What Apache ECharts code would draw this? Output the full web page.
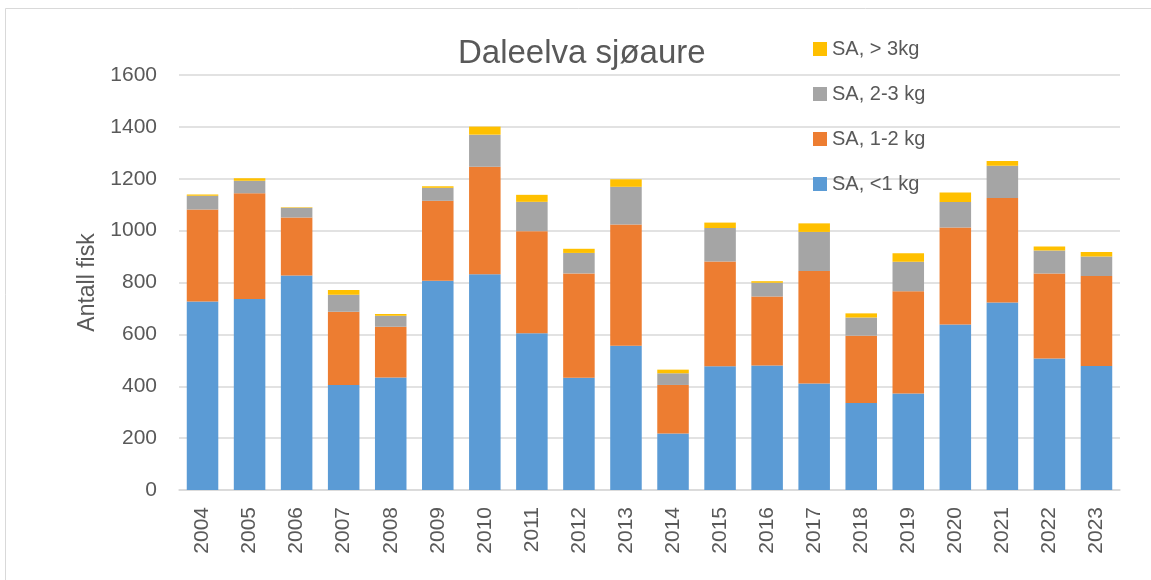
<!DOCTYPE html>
<html>
<head>
<meta charset="utf-8">
<script src="https://cdn.jsdelivr.net/npm/echarts@6/dist/echarts.min.js"></script>
<style>html,body{margin:0;padding:0;background:#fff;}#c{width:1151px;height:580px;}</style>
</head>
<body>
<div id="c"></div>
<script>
const years = ['2004','2005','2006','2007','2008','2009','2010','2011','2012','2013','2014','2015','2016','2017','2018','2019','2020','2021','2022','2023'];
const under1 = [727, 736, 827, 405, 434, 807, 832, 604, 433, 556, 218, 477, 480, 411, 335, 372, 638, 723, 507, 478];
const kg1to2 = [354, 408, 224, 282, 195, 308, 414, 394, 402, 468, 187, 404, 266, 433, 260, 394, 374, 403, 328, 347];
const kg2to3 = [53, 48, 37, 66, 43, 50, 124, 113, 79, 145, 45, 129, 53, 151, 70, 114, 98, 124, 88, 75];
const over3 = [5, 10, 2, 18, 7, 6, 31, 27, 16, 29, 14, 21, 6, 33, 16, 33, 37, 18, 16, 18];
const seriesNames = ['SA, <1 kg', 'SA, 1-2 kg', 'SA, 2-3 kg', 'SA, > 3kg'];
const yTicks = [0, 200, 400, 600, 800, 1000, 1200, 1400, 1600];

const colors = ['#5B9BD5', '#ED7D31', '#A5A5A5', '#FFC000'];
const dataSets = [under1, kg1to2, kg2to3, over3];
const font = 'Liberation Sans, Arial, sans-serif';
const txt = '#595959';

const chart = echarts.init(document.getElementById('c'));
chart.setOption({
  animation: false,
  backgroundColor: '#fff',
  textStyle: { fontFamily: font },
  graphic: [{
    type: 'rect', shape: { x: 5.5, y: 8.5, width: 1200, height: 700 },
    style: { fill: 'none', stroke: '#d9d9d9', lineWidth: 1 }, z: -1
  }],
  title: {
    text: 'Daleelva sjøaure', left: 453, top: 32,
    textStyle: { fontFamily: font, fontSize: 33, fontWeight: 'normal', color: txt }
  },
  legend: {
    orient: 'vertical', left: 808, top: 34,
    itemWidth: 14, itemHeight: 14, itemGap: 25,
    data: seriesNames.slice().reverse(),
    textStyle: { fontFamily: font, fontSize: 20, color: txt },
    icon: 'rect'
  },
  grid: { left: 179, right: 31, top: 75, bottom: 90 },
  xAxis: {
    type: 'category', data: years,
    axisLine: { lineStyle: { color: '#d9d9d9', width: 1.5 } },
    axisTick: { show: false },
    axisLabel: { rotate: 90, fontSize: 21, color: txt, margin: 17, fontFamily: font }
  },
  yAxis: {
    type: 'value', min: yTicks[0], max: yTicks[yTicks.length - 1], interval: 200,
    name: 'Antall fisk', nameLocation: 'middle', nameGap: 77,
    nameTextStyle: { fontSize: 23, color: txt, fontFamily: font },
    axisLine: { show: false }, axisTick: { show: false },
    axisLabel: { fontSize: 21, color: txt, margin: 22, fontFamily: font, formatter: v => String(v) },
    splitLine: { lineStyle: { color: '#d9d9d9', width: 1.5 } }
  },
  series: seriesNames.map((n, i) => ({
    name: n, type: 'bar', stack: 'total', data: dataSets[i],
    barCategoryGap: '33%',
    itemStyle: { color: colors[i] }
  }))
});
</script>
</body>
</html>
